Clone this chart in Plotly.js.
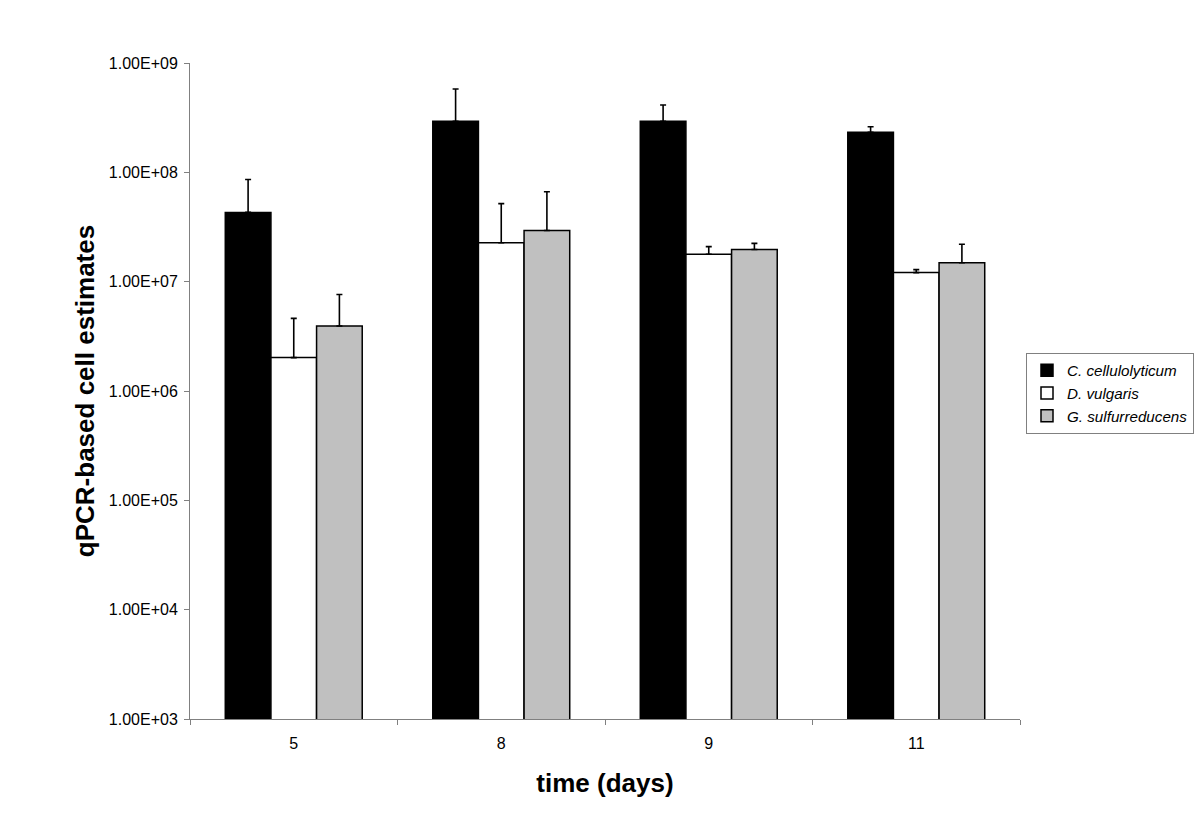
<!DOCTYPE html>
<html><head><meta charset="utf-8">
<script src="https://cdn.plot.ly/plotly-3.0.1.min.js"></script>
<style>body{margin:0;background:#fff}</style>
</head><body><div id="chart" style="width:1200px;height:817px"></div>
<script>
const days = ["5", "8", "9", "11"];
const seriesNames = ["C. cellulolyticum", "D. vulgaris", "G. sulfurreducens"];
const cCellulolyticum = [4.3e7, 2.93e8, 2.93e8, 2.32e8];
const cCellulolyticumErr = [4.3e7, 2.85e8, 1.2e8, 2.9e7];
const dVulgaris = [2.02e6, 2.27e7, 1.78e7, 1.21e7];
const dVulgarisErr = [2.6e6, 2.9e7, 3.1e6, 8e5];
const gSulfurreducens = [3.93e6, 2.94e7, 1.97e7, 1.49e7];
const gSulfurreducensErr = [3.7e6, 3.7e7, 2.7e6, 7.1e6];
const tickVals = [1e3, 1e4, 1e5, 1e6, 1e7, 1e8, 1e9];
const tickText = ["1.00E+03", "1.00E+04", "1.00E+05", "1.00E+06", "1.00E+07", "1.00E+08", "1.00E+09"];

const fills = ["#000000", "#ffffff", "#c0c0c0"];
const vals = [cCellulolyticum, dVulgaris, gSulfurreducens];
const errs = [cCellulolyticumErr, dVulgarisErr, gSulfurreducensErr];

const traces = vals.map((v, i) => ({
  type: "bar",
  x: days,
  y: v,
  name: "<i>" + seriesNames[i] + "</i>",
  marker: {color: fills[i], line: {color: "#000", width: 1.5}},
  error_y: {type: "data", array: errs[i], arrayminus: errs[i].map(() => 0), symmetric: false,
            color: "#000", thickness: 1.6, width: 3}
}));

const layout = {
  width: 1200, height: 817,
  margin: {l: 190, r: 180, t: 63, b: 98},
  paper_bgcolor: "#fff", plot_bgcolor: "#fff",
  font: {family: "Arial, Liberation Sans, sans-serif", color: "#000", size: 16},
  barmode: "group",
  bargap: 0.34, bargroupgap: 0,
  showlegend: true,
  legend: {xref: "container", yref: "container", x: 0.855, y: 0.568, xanchor: "left", yanchor: "top",
           bordercolor: "#808080", borderwidth: 1, bgcolor: "#fff",
           font: {size: 15.2, family: "Arial, Liberation Sans, sans-serif"},
           itemwidth: 30},
  xaxis: {
    type: "category",
    showline: true, linecolor: "#808080", linewidth: 1,
    ticks: "outside", tickson: "boundaries", ticklen: 5, tickcolor: "#808080",
    ticklabelstandoff: 10,
    showgrid: false, zeroline: false,
    tickfont: {size: 16},
    title: {text: "<b>time (days)</b>", font: {size: 26}, standoff: 22}
  },
  yaxis: {
    type: "log",
    range: [3, 9],
    tickvals: tickVals, ticktext: tickText,
    showline: true, linecolor: "#808080", linewidth: 1,
    ticks: "outside", ticklen: 5, tickcolor: "#808080",
    ticklabelstandoff: 3,
    showgrid: false, zeroline: false,
    tickfont: {size: 16},
    title: {text: "<b>qPCR-based cell estimates</b>", font: {size: 26}, standoff: 6}
  }
};

Plotly.newPlot("chart", traces, layout, {displayModeBar: false, staticPlot: true});
</script>
</body></html>
